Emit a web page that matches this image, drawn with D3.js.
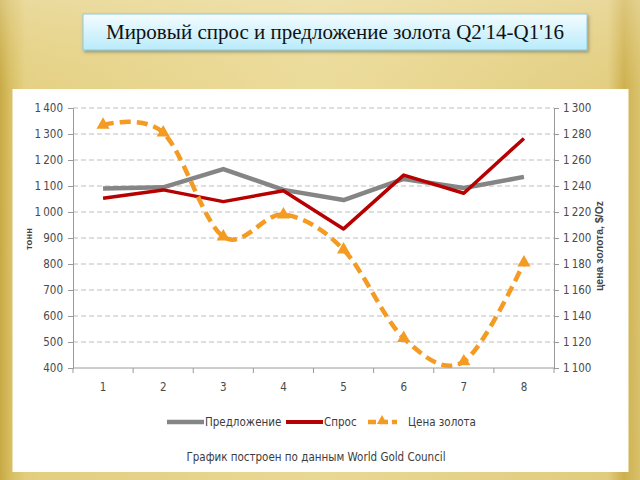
<!DOCTYPE html>
<html><head><meta charset="utf-8">
<script src="https://cdn.jsdelivr.net/npm/d3@7"></script>
<style>
html,body{margin:0;padding:0;width:640px;height:480px;overflow:hidden;}
svg{display:block;}
</style></head>
<body>
<script>
const categories = ["1","2","3","4","5","6","7","8"];
const supply = [1090, 1095, 1165, 1085, 1046, 1127, 1092, 1135];
const demand = [1053, 1085, 1040, 1082, 935, 1142, 1072, 1283];
const price  = [1287, 1281, 1201, 1218, 1191, 1123, 1105, 1181];
const leftTicks = [400,500,600,700,800,900,1000,1100,1200,1300,1400];
const rightTicks = [1100,1120,1140,1160,1180,1200,1220,1240,1260,1280,1300];
const seriesNames = ["Предложение","Спрос","Цена золота"];
const titleText = "Мировый спрос и предложение золота Q2'14-Q1'16";
const leftAxisTitle = "тонн";
const rightAxisTitle = "цена золота, $/Oz";
const footnote = "График построен по данным World Gold Council";

const W = 640, H = 480;
const svg = d3.select("body").append("svg").attr("width", W).attr("height", H);
const defs = svg.append("defs");

// background gold gradient
const bg = defs.append("linearGradient").attr("id","bgH").attr("x1","0").attr("x2","1").attr("y1","0").attr("y2","0");
[["0%","#c4a43c"],["1.5%","#d5bb5c"],["4%","#e4d083"],["50%","#ecdc9c"],["95%","#e2cd80"],["97.5%","#cbac48"],["100%","#d8c06a"]]
  .forEach(s=>bg.append("stop").attr("offset",s[0]).attr("stop-color",s[1]));
const bgV = defs.append("linearGradient").attr("id","bgV").attr("x1","0").attr("x2","0").attr("y1","0").attr("y2","1");
[["0%","#f1e6bc",0.45],["18%","#ecdc9a",0.1],["100%","#d9c06a",0.15]]
  .forEach(s=>bgV.append("stop").attr("offset",s[0]).attr("stop-color",s[1]).attr("stop-opacity",s[2]));
svg.append("rect").attr("width",W).attr("height",H).attr("fill","url(#bgH)");
svg.append("rect").attr("width",W).attr("height",H).attr("fill","url(#bgV)");

// title box
const tg = defs.append("linearGradient").attr("id","tg").attr("x1","0").attr("x2","0").attr("y1","0").attr("y2","1");
[["0%","#f4fcff"],["100%","#b9ebfb"]].forEach(s=>tg.append("stop").attr("offset",s[0]).attr("stop-color",s[1]));
const sh = defs.append("filter").attr("id","sh").attr("x","-10%").attr("y","-30%").attr("width","120%").attr("height","170%");
sh.append("feDropShadow").attr("dx",1.5).attr("dy",2).attr("stdDeviation",1.5).attr("flood-color","#6b6b50").attr("flood-opacity",0.55);
svg.append("rect").attr("x",83).attr("y",14).attr("width",504).attr("height",36)
  .attr("fill","url(#tg)").attr("stroke","#8fc9dc").attr("stroke-width",1).attr("filter","url(#sh)");
svg.append("text").attr("x",335).attr("y",39).attr("text-anchor","middle")
  .attr("font-family","'Liberation Serif','DejaVu Serif',serif").attr("font-size",21).attr("fill","#111")
  .text(titleText);

// chart white panel
svg.append("rect").attr("x",12.5).attr("y",89).attr("width",616).attr("height",383).attr("fill","#ffffff");

const font = "'Liberation Sans Narrow','DejaVu Sans Condensed','Liberation Sans',sans-serif";
const x = d3.scaleBand().domain(categories).range([73,554]);
const yL = d3.scaleLinear().domain([400,1400]).range([368,108]);
const yR = d3.scaleLinear().domain([1100,1300]).range([368,108]);
const fmt = d => d >= 1000 ? Math.floor(d/1000) + "\u2009" + String(d % 1000).padStart(3,"0") : String(d);

// gridlines
svg.append("g").selectAll("line").data(leftTicks.filter(d=>d>400)).join("line")
  .attr("x1",73).attr("x2",554).attr("y1",d=>yL(d)).attr("y2",d=>yL(d))
  .attr("stroke","#bdbdbd").attr("stroke-width",1).attr("stroke-dasharray","5,3");

// left axis
const gL = svg.append("g").attr("transform","translate(73,0)")
  .call(d3.axisLeft(yL).tickValues(leftTicks).tickFormat(fmt).tickSize(5).tickPadding(5));
// right axis
const gR = svg.append("g").attr("transform","translate(554,0)")
  .call(d3.axisRight(yR).tickValues(rightTicks).tickFormat(fmt).tickSize(5).tickPadding(4));
// bottom axis
const gB = svg.append("g").attr("transform","translate(0,368)")
  .call(d3.axisBottom(x).tickSize(0).tickPadding(15));
gB.selectAll(".tick").append("line").attr("x1",-x.bandwidth()/2).attr("x2",-x.bandwidth()/2).attr("y1",0).attr("y2",5);
gB.append("line").attr("x1",554).attr("x2",554).attr("y1",0).attr("y2",5);
[gL,gR,gB].forEach(g=>{
  g.selectAll(".domain").attr("stroke","#9a9a9a").attr("stroke-width",1);
  g.selectAll("line").attr("stroke","#9a9a9a");
  g.selectAll("text").attr("font-family",font).attr("font-size",11.5).attr("fill","#4a4a4a");
});
gB.selectAll(".domain").attr("d","M73,0H554");

// axis titles
svg.append("text").attr("transform","translate(32,239) rotate(-90)").attr("text-anchor","middle")
  .attr("font-family","'Liberation Sans','DejaVu Sans',sans-serif").attr("font-weight","bold").attr("font-size",9.5).attr("fill","#444")
  .text(leftAxisTitle);
svg.append("text").attr("transform","translate(603,246) rotate(-90)").attr("text-anchor","middle")
  .attr("font-family","'Liberation Sans','DejaVu Sans',sans-serif").attr("font-weight","bold").attr("font-size",10.5).attr("fill","#444")
  .text(rightAxisTitle);

const cx = (d,i) => x(categories[i]) + x.bandwidth()/2;
const lineL = d3.line().x(cx).y(d=>yL(d));
const lineR = d3.line().x(cx).y(d=>yR(d)).curve(d3.curveCardinal.tension(0));

svg.append("path").datum(supply).attr("d",lineL).attr("fill","none")
  .attr("stroke","#858585").attr("stroke-width",4.5).attr("stroke-linejoin","round");
svg.append("path").datum(demand).attr("d",lineL).attr("fill","none")
  .attr("stroke","#b70000").attr("stroke-width",3.5).attr("stroke-linejoin","round");
svg.append("path").datum(price).attr("d",lineR).attr("fill","none")
  .attr("stroke","#f39b22").attr("stroke-width",4.5).attr("stroke-dasharray","11,6");
const tri = d3.symbol().type(d3.symbolTriangle).size(75);
svg.append("g").selectAll("path").data(price).join("path")
  .attr("transform",(d,i)=>`translate(${cx(d,i)},${yR(d)})`).attr("d",tri).attr("fill","#f39b22");

// legend
const lg = svg.append("g").attr("font-family",font).attr("font-size",11.5).attr("fill","#3c3c3c");
lg.append("line").attr("x1",167).attr("x2",204).attr("y1",422).attr("y2",422).attr("stroke","#858585").attr("stroke-width",4.5);
lg.append("text").attr("x",205).attr("y",426).text(seriesNames[0]);
lg.append("line").attr("x1",286).attr("x2",323).attr("y1",422).attr("y2",422).attr("stroke","#b70000").attr("stroke-width",4);
lg.append("text").attr("x",324).attr("y",426).text(seriesNames[1]);
lg.append("line").attr("x1",368).attr("x2",397).attr("y1",422).attr("y2",422).attr("stroke","#f39b22").attr("stroke-width",4.5).attr("stroke-dasharray","8,4");
lg.append("path").attr("transform","translate(382,421)").attr("d",d3.symbol().type(d3.symbolTriangle).size(45)).attr("fill","#f39b22");
lg.append("text").attr("x",408).attr("y",426).text(seriesNames[2]);

svg.append("text").attr("x",316).attr("y",461).attr("text-anchor","middle")
  .attr("font-family",font).attr("font-size",11.5).attr("fill","#3c3c3c").text(footnote);
</script>
</body></html>
